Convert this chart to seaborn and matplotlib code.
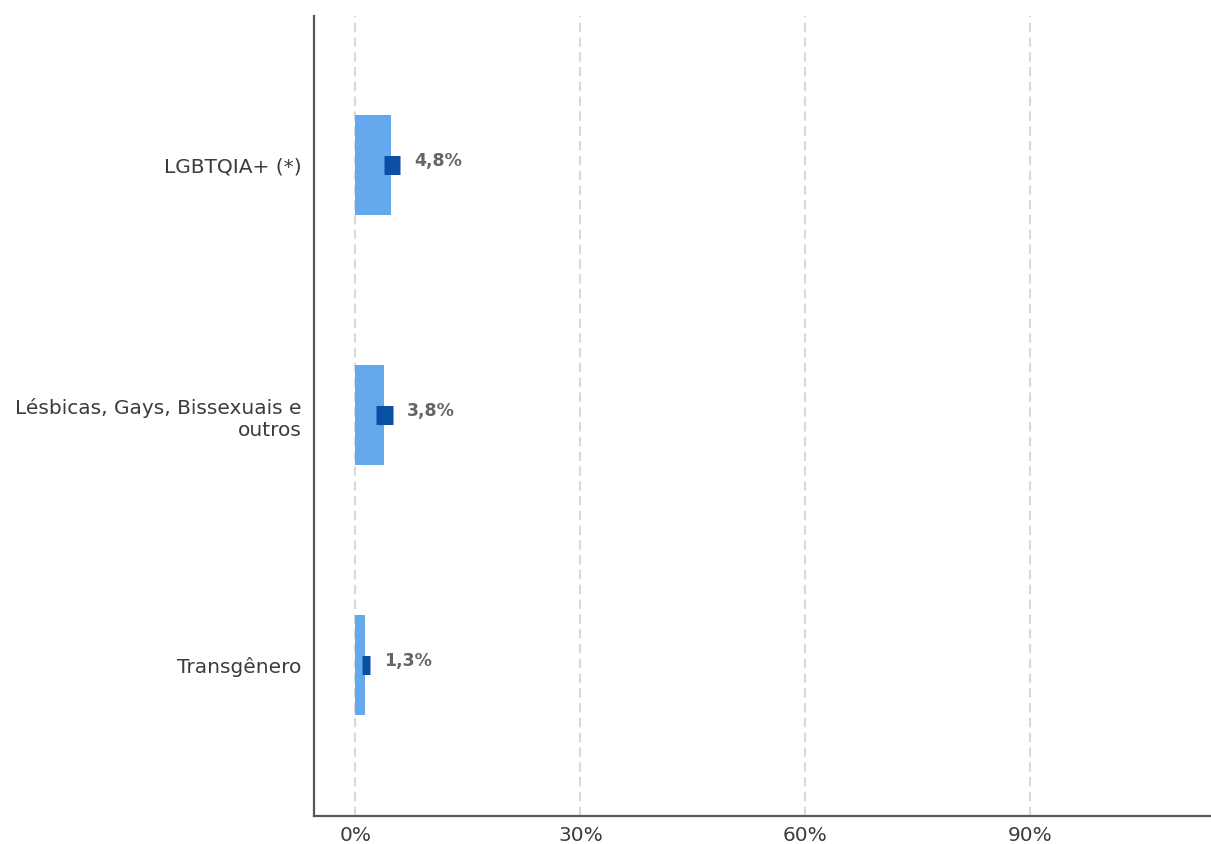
import matplotlib
matplotlib.use("Agg")
import matplotlib.pyplot as plt
import seaborn as sns

# data
categories = ["LGBTQIA+ (*)", "Lésbicas, Gays, Bissexuais e\noutros", "Transgênero"]
values = [4.8, 3.8, 1.3]
ci_low = [3.8, 2.8, 0.9]
ci_high = [6.0, 5.0, 2.0]
value_labels = ["4,8%", "3,8%", "1,3%"]
xticks = [0, 30, 60, 90]
xtick_labels = ["0%", "30%", "60%", "90%"]

bar_color = "#64a8ee"
ci_color = "#0a4fa3"
axis_color = "#5e5650"
text_color = "#3c3c3c"

sns.set_style("white")
plt.rcParams["font.family"] = ["DejaVu Sans"]

fig = plt.figure(figsize=(12.11, 8.44), dpi=100)
ax = fig.add_axes([314 / 1211, 1 - 816 / 844, (1211 - 314) / 1211, 800 / 844])

# dashed vertical grid
for t in xticks:
    ax.axvline(t, color="#d9d9d9", lw=1.5, ls=(0, (4.5, 2.6)), zorder=0)

sns.barplot(x=values, y=categories, orient="h", color=bar_color,
            width=0.4, saturation=1, linewidth=0, ax=ax, zorder=2)

ypos = list(range(len(categories)))
ax.hlines(ypos, ci_low, ci_high, color=ci_color, lw=13.7, zorder=3)

for y, hi, lab in zip(ypos, ci_high, value_labels):
    ax.text(hi + 1.8, y - 0.015, lab, ha="left", va="center",
            fontsize=12.5, fontweight="bold", color="#666666")

ax.set_xlim(-5.53, 114.07)
ax.set_ylim(2.604, -0.596)
ax.set_xticks(xticks)
ax.set_xticklabels(xtick_labels)
ax.set_xlabel("")
ax.set_ylabel("")

sns.despine(ax=ax, top=True, right=True)
for side in ["left", "bottom"]:
    ax.spines[side].set_color(axis_color)
    ax.spines[side].set_linewidth(1.6)

ax.tick_params(axis="both", colors=axis_color, labelcolor=text_color,
               labelsize=14.5, length=4, width=1.6)
ax.tick_params(axis="y", pad=5)
ax.tick_params(axis="x", pad=3)

fig.savefig("out.png", dpi=100)
